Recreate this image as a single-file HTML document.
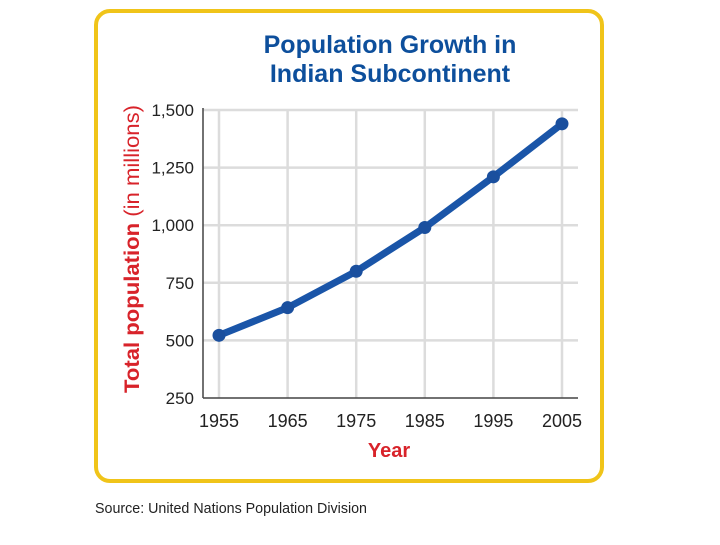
<!DOCTYPE html>
<html><head><meta charset="utf-8"><style>
body{margin:0;width:720px;height:540px;background:#fff;overflow:hidden;font-family:"Liberation Sans",sans-serif}
</style></head><body>
<svg width="720" height="540">
<rect x="96" y="11" width="506" height="470" rx="14" fill="#fff" stroke="#f0c419" stroke-width="4"/>
<text x="390" y="53" text-anchor="middle" font-size="25" font-weight="bold" fill="#0d4f9c">Population Growth in</text>
<text x="390" y="82" text-anchor="middle" font-size="25" font-weight="bold" fill="#0d4f9c">Indian Subcontinent</text>
<text transform="translate(139,249) rotate(-90)" text-anchor="middle" font-size="21" fill="#d8232a" textLength="288" lengthAdjust="spacingAndGlyphs"><tspan font-weight="bold">Total population</tspan> (in millions)</text>
<text x="389" y="457" text-anchor="middle" font-size="20" font-weight="bold" fill="#d8232a">Year</text>
<text x="95" y="513" font-size="15" fill="#222" textLength="272" lengthAdjust="spacingAndGlyphs">Source: United Nations Population Division</text>
<g id="grid"></g><g id="ax"></g><g id="series"></g>
</svg>
<script>
const years=[1955,1965,1975,1985,1995,2005];
const population=[522,642,800,990,1210,1440];
const yTicks=[250,500,750,1000,1250,1500];
const yTickLabels=["250","500","750","1,000","1,250","1,500"];
const NS="http://www.w3.org/2000/svg";
function xs(v){return 219+(v-1955)*(562-219)/50;}
function ys(v){return 398-(v-250)*(398-110)/1250;}
function mk(t,a,p){const e=document.createElementNS(NS,t);for(const k in a)e.setAttribute(k,a[k]);p.appendChild(e);return e;}
const g=document.getElementById('grid'),ax=document.getElementById('ax'),s=document.getElementById('series');
yTicks.forEach((v,i)=>{
 if(i>0){const l=mk('line',{x1:203,x2:578,y1:ys(v),y2:ys(v),stroke:'#dcdcdc','stroke-width':2.5},g);
 
 }
 const t=mk('text',{x:194,y:ys(v)+6,'text-anchor':'end','font-size':17,fill:'#222'},ax);t.textContent=yTickLabels[i];
 
 
});
years.forEach(y=>{
 const l=mk('line',{x1:xs(y),x2:xs(y),y1:110,y2:398,stroke:'#dcdcdc','stroke-width':2.5},g);
 
 
 const t=mk('text',{x:xs(y),y:427,'text-anchor':'middle','font-size':18,fill:'#222'},ax);t.textContent=y;
 
 
});
const ya=mk('line',{x1:203,x2:203,y1:108,y2:398,stroke:'#444','stroke-width':1.5},ax);


const xa=mk('line',{x1:203,x2:578,y1:398,y2:398,stroke:'#444','stroke-width':1.5},ax);


const pts=years.map((y,i)=>xs(y)+','+ys(population[i])).join(' ');
const pl=mk('polyline',{points:pts,fill:'none',stroke:'#1a55a8','stroke-width':7,'stroke-linejoin':'round','stroke-linecap':'round'},s);


years.forEach((y,i)=>{
 const c=mk('circle',{cx:xs(y),cy:ys(population[i]),r:6.5,fill:'#1a4f9e'},s);
 
 
});
</script>
</body></html>
